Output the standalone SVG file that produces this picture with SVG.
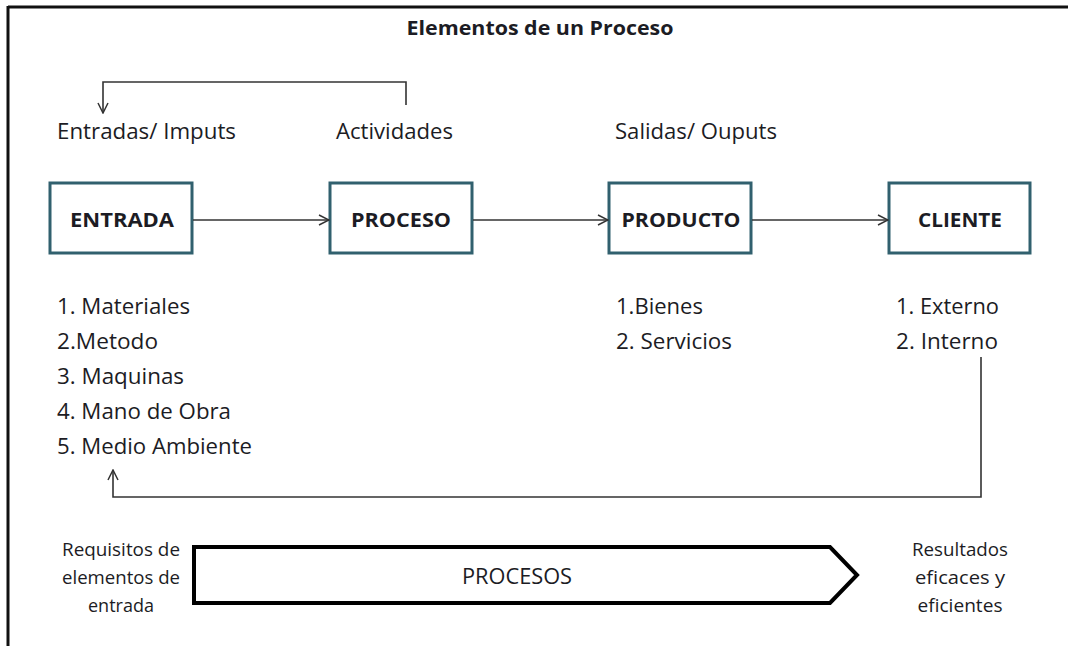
<svg xmlns="http://www.w3.org/2000/svg" width="1068" height="646" viewBox="0 0 1068 646">
<style>
.t{font-family:"Open Sans","Noto Sans","Liberation Sans",sans-serif;fill:#1c1c24;}
.lbl{font-size:21px;}
.box{fill:#fff;stroke:#31606e;stroke-width:3;}
.bt{font-size:20px;font-weight:bold;text-anchor:middle;}
.ln{fill:none;stroke:#333;stroke-width:1.6;}
.small{font-size:18px;text-anchor:middle;}
</style>
<defs>
<marker id="open" viewBox="0 0 12 12" refX="11" refY="6" markerWidth="12" markerHeight="12" markerUnits="userSpaceOnUse" orient="auto">
<path d="M1,1 L11,6 L1,11" fill="none" stroke="#333" stroke-width="1.5"/>
</marker>
</defs>
<rect width="1068" height="646" fill="#fff"/>
<g id="frame">
<line x1="8" y1="7" x2="1068" y2="7" stroke="#111" stroke-width="3"/>
<line x1="8" y1="6" x2="8" y2="646" stroke="#111" stroke-width="3"/>
</g>
<text id="title" class="t" x="540" y="35" font-size="20" font-weight="bold" text-anchor="middle" textLength="267" lengthAdjust="spacingAndGlyphs">Elementos de un Proceso</text>
<g id="headers">
<text class="t lbl" x="57" y="139" textLength="179" lengthAdjust="spacingAndGlyphs">Entradas/ Imputs</text>
<text class="t lbl" x="336" y="139" textLength="117" lengthAdjust="spacingAndGlyphs">Actividades</text>
<text class="t lbl" x="615" y="139" textLength="162" lengthAdjust="spacingAndGlyphs">Salidas/ Ouputs</text>
</g>
<g id="node-entrada"><rect class="box" x="50" y="183" width="142" height="70"/><text class="t bt" x="122" y="227" textLength="104" lengthAdjust="spacingAndGlyphs">ENTRADA</text></g>
<g id="node-proceso"><rect class="box" x="330" y="183" width="142" height="70"/><text class="t bt" x="401" y="227" textLength="100" lengthAdjust="spacingAndGlyphs">PROCESO</text></g>
<g id="node-producto"><rect class="box" x="609" y="183" width="142" height="70"/><text class="t bt" x="681" y="227" textLength="119" lengthAdjust="spacingAndGlyphs">PRODUCTO</text></g>
<g id="node-cliente"><rect class="box" x="889" y="183" width="141" height="70"/><text class="t bt" x="960" y="227" textLength="84" lengthAdjust="spacingAndGlyphs">CLIENTE</text></g>
<g id="connectors">
<line class="ln" x1="193" y1="220" x2="329" y2="220" marker-end="url(#open)"/>
<line class="ln" x1="473" y1="220" x2="608" y2="220" marker-end="url(#open)"/>
<line class="ln" x1="752" y1="220" x2="888" y2="220" marker-end="url(#open)"/>
<polyline class="ln" points="406,105 406,82 103,82 103,113" marker-end="url(#open)"/>
<polyline class="ln" points="981,357 981,497 113,497 113,470" marker-end="url(#open)"/>
</g>
<g id="list-entrada">
<text class="t lbl" x="57" y="314" textLength="133" lengthAdjust="spacingAndGlyphs">1. Materiales</text>
<text class="t lbl" x="57" y="349" textLength="101" lengthAdjust="spacingAndGlyphs">2.Metodo</text>
<text class="t lbl" x="57" y="384" textLength="127" lengthAdjust="spacingAndGlyphs">3. Maquinas</text>
<text class="t lbl" x="57" y="419" textLength="174" lengthAdjust="spacingAndGlyphs">4. Mano de Obra</text>
<text class="t lbl" x="57" y="454" textLength="195" lengthAdjust="spacingAndGlyphs">5. Medio Ambiente</text>
</g>
<g id="list-producto">
<text class="t lbl" x="616" y="314" textLength="87" lengthAdjust="spacingAndGlyphs">1.Bienes</text>
<text class="t lbl" x="616" y="349" textLength="116" lengthAdjust="spacingAndGlyphs">2. Servicios</text>
</g>
<g id="list-cliente">
<text class="t lbl" x="896" y="314" textLength="103" lengthAdjust="spacingAndGlyphs">1. Externo</text>
<text class="t lbl" x="896" y="349" textLength="102" lengthAdjust="spacingAndGlyphs">2. Interno</text>
</g>
<g id="node-procesos">
<polygon points="194,547 830,547 857,575 830,603 194,603" fill="#fff" stroke="#000" stroke-width="4" stroke-linejoin="miter"/>
<text class="t" x="517" y="584" font-size="21" text-anchor="middle" textLength="110" lengthAdjust="spacingAndGlyphs">PROCESOS</text>
</g>
<g id="req">
<text class="t small" x="121" y="556" textLength="118" lengthAdjust="spacingAndGlyphs">Requisitos de</text>
<text class="t small" x="121" y="584" textLength="118" lengthAdjust="spacingAndGlyphs">elementos de</text>
<text class="t small" x="121" y="612" textLength="66" lengthAdjust="spacingAndGlyphs">entrada</text>
</g>
<g id="res">
<text class="t small" x="960" y="556" textLength="96" lengthAdjust="spacingAndGlyphs">Resultados</text>
<text class="t small" x="960" y="584" textLength="90" lengthAdjust="spacingAndGlyphs">eficaces y</text>
<text class="t small" x="960" y="612" textLength="85" lengthAdjust="spacingAndGlyphs">eficientes</text>
</g>
</svg>
